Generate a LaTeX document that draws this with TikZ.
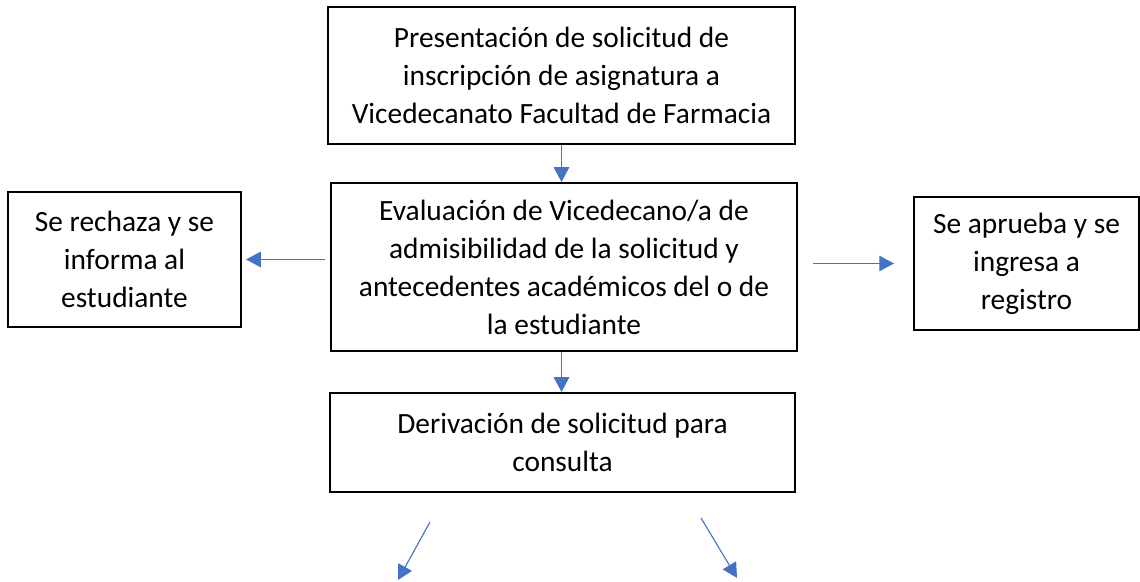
\documentclass[tikz,border=0pt]{standalone}
\usepackage{fontspec}
\setmainfont{Carlito}
\usetikzlibrary{arrows.meta}

\definecolor{flowblue}{HTML}{4472C4}
\tikzset{
  box/.style={draw,line width=1.4pt,align=center,inner sep=0pt,
    font=\fontsize{20.9}{27}\selectfont},
  flow/.style={draw=flowblue,line width=0.8pt,
    -{Triangle[length=10.5pt,width=11pt]},fill=flowblue}
}

\begin{document}
\begin{tikzpicture}[x=0.025cm,y=-0.025cm]
\useasboundingbox (0,0) rectangle (1140,582);

\node[box,minimum width=467*0.025cm,minimum height=137*0.025cm] (solicitud) at (561.5,75.5)
  {Presentación de solicitud de\\inscripción de asignatura a\\Vicedecanato Facultad de Farmacia};
\node[box,minimum width=466*0.025cm,minimum height=168*0.025cm] (evaluacion) at (564,267)
  {Evaluación de Vicedecano/a de\\admisibilidad de la solicitud y\\antecedentes académicos del o de\\la estudiante};
\node[box,minimum width=233*0.025cm,minimum height=135*0.025cm] (rechazo) at (124.5,259.5)
  {Se rechaza y se\\informa al\\estudiante};
\node[box,minimum width=225*0.025cm,minimum height=133*0.025cm] (aprueba) at (1026.5,263.5)
  {Se aprueba y se\\ingresa a\\registro};
\node[box,minimum width=465*0.025cm,minimum height=99*0.025cm] (derivacion) at (562.5,442.5)
  {Derivación de solicitud para\\consulta};

% free ends of the last two arrows
\coordinate (consultaA) at (430,522);
\coordinate (consultaAfin) at (398,580);
\coordinate (consultaB) at (701,518);
\coordinate (consultaBfin) at (737,578);

\draw[flow] (solicitud.south) -- (solicitud.south |- evaluacion.north);
\draw[flow] (solicitud.south |- evaluacion.south) -- (solicitud.south |- derivacion.north);
\draw[flow,shorten <=5*0.025cm,shorten >=4*0.025cm] (evaluacion.west |- rechazo) -- (rechazo.east);
\draw[flow,shorten <=15*0.025cm,shorten >=19*0.025cm] (evaluacion.east |- aprueba) -- (aprueba.west);
\draw[flow] (consultaA) -- (consultaAfin);
\draw[flow] (consultaB) -- (consultaBfin);
\end{tikzpicture}
\end{document}
